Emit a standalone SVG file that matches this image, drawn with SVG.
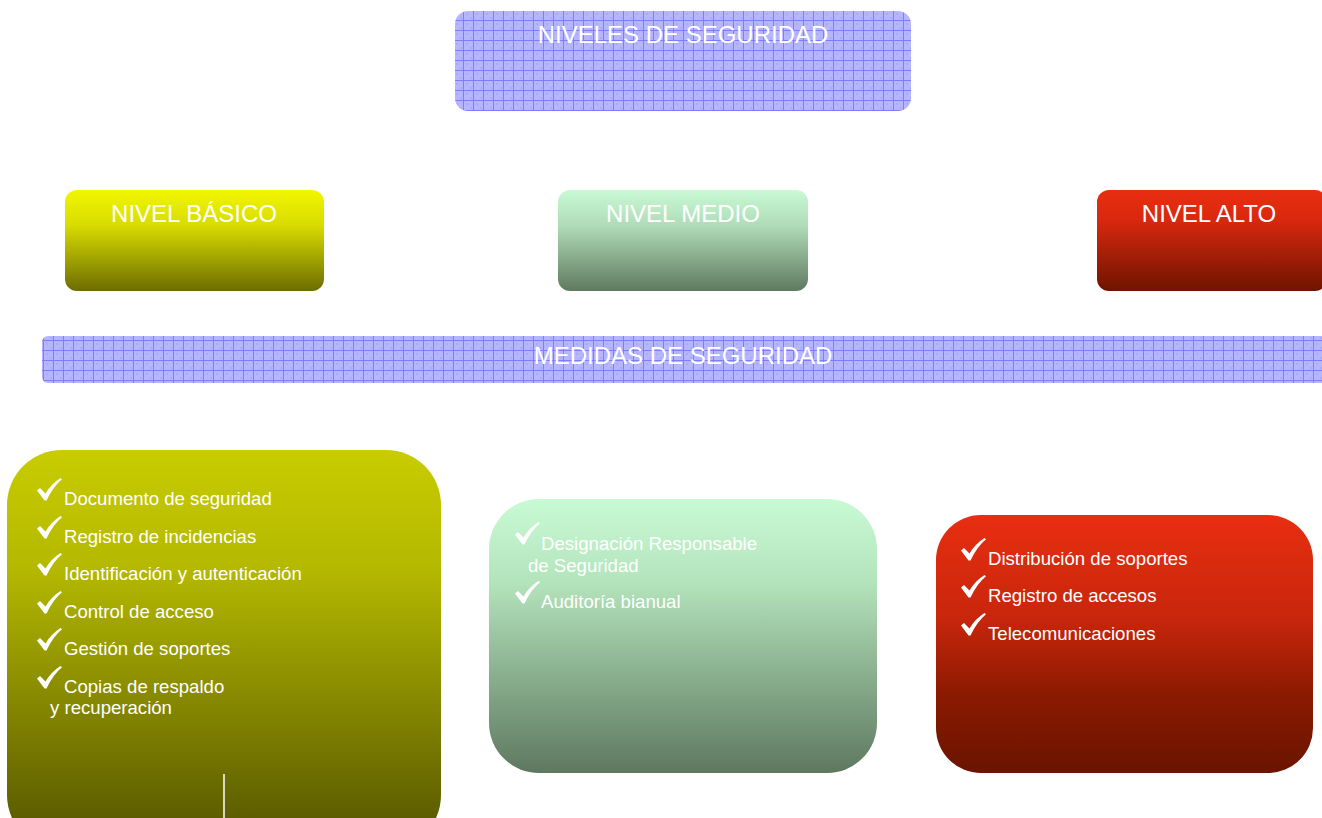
<svg xmlns="http://www.w3.org/2000/svg" width="1322" height="818" viewBox="0 0 1322 818">
<style>
.t{font-family:"Liberation Sans",Arial,sans-serif;fill:#fff}
.h{font-size:24px;text-anchor:middle}
.i{font-size:18.6px}
</style>
<defs>
<pattern id="grid" x="3" y="0" width="10" height="10" patternUnits="userSpaceOnUse">
<rect width="10" height="10" fill="#b6b6ff"/>
<rect x="3" y="3" width="2" height="2" fill="#aaaafb"/>
<rect x="7" y="7" width="2" height="2" fill="#aaaafb"/>
<path d="M0,0.5H10M0.5,0V10" stroke="#7c7cff" stroke-width="1"/>
</pattern>
<linearGradient id="gY" x1="0" y1="0" x2="0" y2="1"><stop offset="0" stop-color="#f2f600"/><stop offset="0.35" stop-color="#d8dc00"/><stop offset="1" stop-color="#6c6c00"/></linearGradient>
<linearGradient id="gG" x1="0" y1="0" x2="0" y2="1"><stop offset="0" stop-color="#c8fad4"/><stop offset="0.35" stop-color="#b0dcb8"/><stop offset="1" stop-color="#5f7a60"/></linearGradient>
<linearGradient id="gR" x1="0" y1="0" x2="0" y2="1"><stop offset="0" stop-color="#e82e10"/><stop offset="0.3" stop-color="#d8280e"/><stop offset="1" stop-color="#6e1400"/></linearGradient>
<linearGradient id="gY2" x1="0" y1="0" x2="0" y2="1"><stop offset="0" stop-color="#c8cc00"/><stop offset="0.3" stop-color="#b4b800"/><stop offset="1" stop-color="#525200"/></linearGradient>
<linearGradient id="gG2" x1="0" y1="0" x2="0" y2="1"><stop offset="0" stop-color="#c8fad4"/><stop offset="0.3" stop-color="#b4e4bc"/><stop offset="1" stop-color="#5e7860"/></linearGradient>
<linearGradient id="gR2" x1="0" y1="0" x2="0" y2="1"><stop offset="0" stop-color="#e82e10"/><stop offset="0.4" stop-color="#c8260c"/><stop offset="0.7" stop-color="#8a1a00"/><stop offset="1" stop-color="#6a1400"/></linearGradient>
<symbol id="check" viewBox="0 0 25 23" width="25" height="23">
<path d="M0,12.5 L3,10 L8.5,15.5 Q14,6 23.5,0 L25,1.2 Q16,8.5 9.5,22.5 L7.5,22.5 Z" fill="#fff"/>
</symbol>
</defs>

<g id="niveles">
<rect x="455" y="11" width="456" height="100" rx="13" fill="url(#grid)"/>
<text class="t h" x="683" y="43">NIVELES DE SEGURIDAD</text>
</g>

<g id="basico">
<rect x="65" y="190" width="259" height="101" rx="12" fill="url(#gY)"/>
<text class="t h" x="194" y="222">NIVEL BÁSICO</text>
</g>

<g id="medio">
<rect x="558" y="190" width="250" height="101" rx="12" fill="url(#gG)"/>
<text class="t h" x="683" y="222">NIVEL MEDIO</text>
</g>

<g id="alto">
<rect x="1097" y="190" width="230" height="101" rx="12" fill="url(#gR)"/>
<text class="t h" x="1209" y="222">NIVEL ALTO</text>
</g>

<g id="medidas">
<rect x="42" y="336" width="1290" height="47" rx="6" fill="url(#grid)"/>
<text class="t h" x="683" y="364">MEDIDAS DE SEGURIDAD</text>
</g>

<g id="medidas-basico">
<rect x="7" y="450" width="434" height="400" rx="55" fill="url(#gY2)"/>
<use href="#check" x="37" y="478"/>
<text class="t i" x="64" y="505">Documento de seguridad</text>
<use href="#check" x="37" y="516"/>
<text class="t i" x="64" y="543">Registro de incidencias</text>
<use href="#check" x="37" y="553"/>
<text class="t i" x="64" y="580">Identificación y autenticación</text>
<use href="#check" x="37" y="591"/>
<text class="t i" x="64" y="618">Control de acceso</text>
<use href="#check" x="37" y="628"/>
<text class="t i" x="64" y="655">Gestión de soportes</text>
<use href="#check" x="37" y="666"/>
<text class="t i" x="64" y="693">Copias de respaldo</text>
<text class="t i" x="50" y="714">y recuperación</text>
</g>

<g id="medidas-medio">
<rect x="489" y="499" width="388" height="274" rx="50" fill="url(#gG2)"/>
<use href="#check" x="515" y="522"/>
<text class="t i" x="541" y="550">Designación Responsable</text>
<text class="t i" x="528" y="572">de Seguridad</text>
<use href="#check" x="515" y="581"/>
<text class="t i" x="541" y="608">Auditoría bianual</text>
</g>

<g id="medidas-alto">
<rect x="936" y="515" width="377" height="258" rx="45" fill="url(#gR2)"/>
<use href="#check" x="961" y="538"/>
<text class="t i" x="988" y="565">Distribución de soportes</text>
<use href="#check" x="961" y="575"/>
<text class="t i" x="988" y="602">Registro de accesos</text>
<use href="#check" x="961" y="613"/>
<text class="t i" x="988" y="640">Telecomunicaciones</text>
</g>

<g id="connectors">
<line x1="224" y1="774" x2="224" y2="818" stroke="#fff" stroke-width="1.5"/>
</g>
</svg>
